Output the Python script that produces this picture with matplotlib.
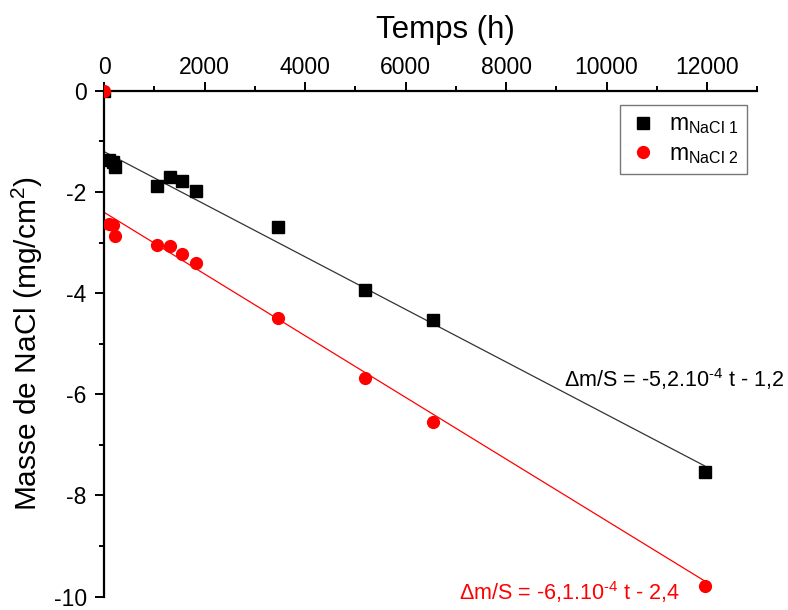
import matplotlib
matplotlib.use("Agg")
import matplotlib.pyplot as plt
import numpy as np
from matplotlib.patches import Rectangle

plt.rcParams["font.family"] = ["Liberation Sans", "DejaVu Sans"]
plt.rcParams["mathtext.fontset"] = "custom"
plt.rcParams["mathtext.rm"] = "Liberation Sans"
plt.rcParams["mathtext.default"] = "regular"
plt.rcParams["axes.unicode_minus"] = False

# data
temps = [0, 100, 170, 210, 1050, 1310, 1550, 1840, 3470, 5200, 6540, 11950]
m_nacl_1 = [0, -1.36, -1.40, -1.50, -1.89, -1.71, -1.78, -1.98, -2.70, -3.94, -4.54, -7.54]
m_nacl_2 = [0, -2.64, -2.66, -2.87, -3.05, -3.07, -3.23, -3.41, -4.49, -5.68, -6.54, -9.79]

# linear fits: slope, intercept
fit_1 = (-5.2e-4, -1.2)
fit_2 = (-6.1e-4, -2.4)
fit_range = (0, 11950)

fig = plt.figure(figsize=(7.88, 6.10), dpi=100)
ax = fig.add_axes([0.132, 0.022, 0.829, 0.829])

t_fit = np.array(fit_range)
ax.plot(t_fit, fit_1[0] * t_fit + fit_1[1], color="#333333", lw=0.9, zorder=2)
ax.plot(t_fit, fit_2[0] * t_fit + fit_2[1], color="red", lw=0.9, zorder=2)

ax.plot(temps, m_nacl_1, "s", color="black", ms=8, ls="none",
        label=r"$m_{NaCl\;1}$", zorder=3)
pts2, = ax.plot(temps, m_nacl_2, "o", color="red", ms=8.5, ls="none",
                label=r"$m_{NaCl\;2}$", zorder=4)
pts2.set_clip_path(Rectangle((0, -0.1), 1.2, 1.2, transform=ax.transAxes))

ax.set_xlim(0, 13000)
ax.set_ylim(-10, 0)
ax.set_xticks(np.arange(0, 12001, 2000))
ax.set_xticks(np.arange(1000, 13001, 2000), minor=True)
ax.set_yticks(np.arange(-10, 0.1, 2))
ax.set_yticks(np.arange(-9, 0, 2), minor=True)

ax.xaxis.tick_top()
ax.xaxis.set_label_position("top")
ax.spines["bottom"].set_visible(False)
ax.spines["right"].set_visible(False)
for s in ("top", "left"):
    ax.spines[s].set_linewidth(1.6)

ax.tick_params(axis="x", which="major", direction="out", length=6.5, width=1.4,
               labelsize=16.5, pad=2)
ax.tick_params(axis="y", which="major", direction="out", length=6.5, width=1.4,
               labelsize=16.5, pad=6)
ax.tick_params(which="minor", direction="out", length=3.5, width=1.4)

ax.set_xlabel("Temps (h)", fontsize=22.5)
ax.xaxis.set_label_coords(0.522, 1.105)
ax.set_ylabel("Masse de NaCl (mg/cm$^2$)", fontsize=21.5)
ax.yaxis.set_label_coords(-0.09, 0.5)

ax.text(9160, -5.70, r"$\Delta$m/S = -5,2.10$^{\text{-4}}$ t - 1,2", fontsize=15.5,
        color="black", va="center", ha="left", clip_on=False)
ax.text(7060, -9.91, r"$\Delta$m/S = -6,1.10$^{\text{-4}}$ t - 2,4", fontsize=15.5,
        color="red", va="center", ha="left", clip_on=False)

leg = ax.legend(loc="upper left", bbox_to_anchor=(0.790, 0.973), fontsize=16.5,
                frameon=True, fancybox=False, edgecolor="#555555",
                borderpad=0.35, handletextpad=0.5, labelspacing=0.25,
                handlelength=1.3, borderaxespad=0)
leg.get_frame().set_linewidth(1.0)

fig.savefig("out.png", dpi=100)
